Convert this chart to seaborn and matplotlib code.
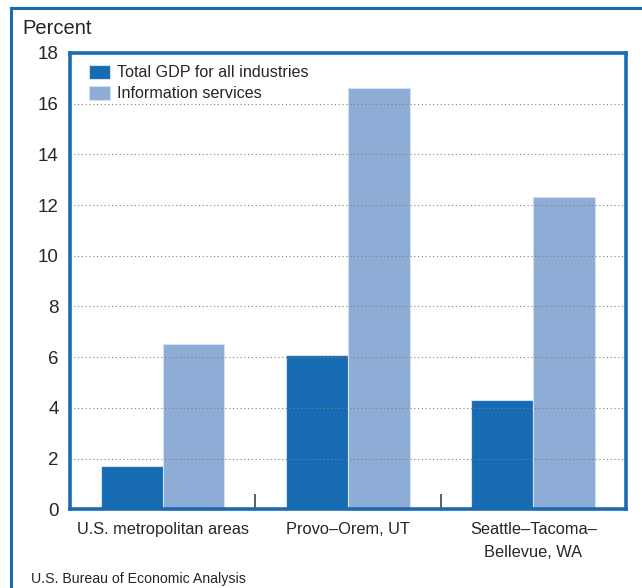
import matplotlib
matplotlib.use("Agg")
import matplotlib.pyplot as plt
from matplotlib.patches import Rectangle
import seaborn as sns
import pandas as pd

areas = ["U.S. metropolitan areas", "Provo\u2013Orem, UT", "Seattle\u2013Tacoma\u2013\nBellevue, WA"]
series = ["Total GDP for all industries", "Information services"]
gdp_total = [1.7, 6.1, 4.3]
info_services = [6.5, 16.6, 12.3]
y_ticks = [0, 2, 4, 6, 8, 10, 12, 14, 16, 18]

dark_blue = "#176bb2"
light_blue = "#8dacd6"
frame_blue = "#1a6ab0"

df = pd.DataFrame({
    "area": areas * 2,
    "series": [series[0]] * 3 + [series[1]] * 3,
    "value": gdp_total + info_services,
})

sns.set_theme(style="white")
plt.rcParams["font.family"] = ["Liberation Sans", "DejaVu Sans"]

fig = plt.figure(figsize=(6.42, 5.88), dpi=100)
ax = fig.add_axes([0.109, 0.134, 0.866, 0.776])

sns.barplot(data=df, x="area", y="value", hue="series", order=areas,
            hue_order=series, palette=[dark_blue, light_blue], width=0.667,
            saturation=1, edgecolor="#d3e0f0", linewidth=0.8, ax=ax, zorder=2)

ax.set_ylim(0, 18)
ax.set_xlim(-0.5, 2.5)
ax.set_yticks(y_ticks)
ax.set_yticklabels([str(t) for t in y_ticks], fontsize=13.5)
ax.tick_params(axis="y", length=0, pad=8)
ax.tick_params(axis="x", length=0, pad=9)
ax.set_xticks(range(len(areas)))
ax.set_xticklabels(areas, fontsize=11.8, linespacing=1.65)
ax.set_xlabel("")
ax.set_ylabel("")

# dividers between area groups along the baseline
ax.set_xticks([0.5, 1.5], minor=True)
ax.tick_params(axis="x", which="minor", direction="in", length=11, width=1.1,
               color="#333333", bottom=True)

# dotted reference lines above the bars
for t in y_ticks[1:-1]:
    ax.axhline(t, color="#808080", lw=0.8, ls=(0, (1, 2.4)), zorder=3)

for s in ax.spines.values():
    s.set_color(frame_blue)
    s.set_linewidth(2.6)

ax.legend(loc="upper left", bbox_to_anchor=(0.034, 0.974), frameon=False,
          fontsize=11.6, handlelength=1.3, handleheight=0.95,
          handletextpad=0.45, labelspacing=0.35, borderaxespad=0, borderpad=0)

fig.text(22 / 642, 1 - 28 / 588, "Percent", fontsize=14.5, va="center", ha="left")
fig.text(31 / 642, 1 - 579 / 588, "U.S. Bureau of Economic Analysis",
         fontsize=10.2, va="center", ha="left")

# outer panel frame
fig.patches.append(Rectangle((11 / 642, -0.1), 1.2, 1 - 8 / 588 + 0.1,
                             transform=fig.transFigure, fill=False,
                             edgecolor=frame_blue, lw=2.2, clip_on=False))

fig.savefig("out.png", dpi=100)
